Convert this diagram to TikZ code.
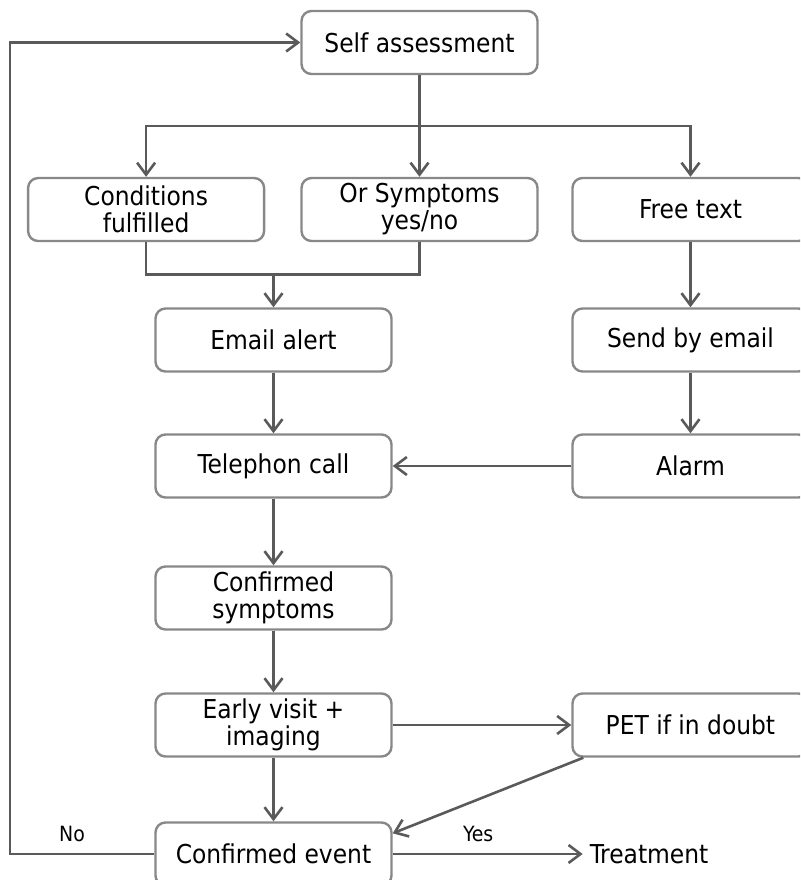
\documentclass[tikz,border=0pt]{standalone}
\usepackage{fontspec}
\setmainfont{DejaVu Sans Condensed}
\usetikzlibrary{positioning,arrows.meta,calc}

\definecolor{boxline}{HTML}{888888}
\definecolor{arrowline}{HTML}{5A5A5A}

\begin{document}
\begin{tikzpicture}[
  x=0.5pt, y=-0.5pt,
  node distance=31pt and 89.3pt,
  box/.style={draw=boxline, line width=1.2pt, rounded corners=5pt, fill=white, minimum width=118pt, minimum height=31.5pt, inner sep=2pt, align=center, font=\fontsize{13}{13.5}\selectfont},
  arrow/.style={-{Straight Barb[length=6pt,width=9pt]}, line width=1.3pt, draw=arrowline},
  line/.style={line width=1.3pt, draw=arrowline},
  lbl/.style={font=\fontsize{10.5}{12}\selectfont}
]
\useasboundingbox (0,0) rectangle (800,880);
\clip (0,0) rectangle (800,880);

% Top row
\node[box] (self) at (419.5,42.5) {Self assessment};
\node[box, below=50.8pt of self] (mid) {Or Symptoms\\yes/no};
\node[box, left=17.5pt of mid] (cond) {Conditions\\fulfilled};
\node[box, right=16.3pt of mid] (free) {Free text};

% Left column
\node[box] (email) at (273.5,340) {Email alert};
\node[box, below=30.3pt of email] (tel) {Telephon call};
\node[box, below=33.3pt of tel] (sympt) {Confirmed\\symptoms};
\node[box, below=30.8pt of sympt] (early) {Early visit +\\imaging};
\node[box, below=31.8pt of early] (event) {Confirmed event};

% Right column
\node[box, right=of email] (send) {Send by email};
\node[box, right=of tel] (alarm) {Alarm};
\node[box, right=of early] (pet) {PET if in doubt};
\node[right=95pt of event, font=\fontsize{13}{13.5}\selectfont] (treat) {Treatment};

% Split and join
\coordinate (split) at ($(self.south)!0.5!(mid.north)$);
\coordinate (join) at ($(cond.south)!0.5!(email.north)$);
\coordinate (back) at (10,0);

% Arrows
\draw[arrow] (self.south) -- (mid.north);
\draw[arrow] (split) -| (cond.north);
\draw[arrow] (split) -| (free.north);
\draw[line] (cond.south) |- (join -| mid.south) -- (mid.south);
\draw[arrow] (join -| email.north) -- (email.north);
\draw[arrow] (free) -- (send);
\draw[arrow] (send) -- (alarm);
\draw[arrow] (email) -- (tel);
\draw[arrow] (alarm) -- (tel);
\draw[arrow] (tel) -- (sympt);
\draw[arrow] (sympt) -- (early);
\draw[arrow] (early) -- (event);
\draw[arrow] (early) -- (pet);
\draw[arrow] ([xshift=6pt]pet.south west) -- ([yshift=-6pt]event.north east);
\draw[arrow] (event) -- node[lbl, above=2pt, pos=0.45] {Yes} (treat);
\draw[arrow] (event.west) -- node[lbl, above=2pt, pos=0.57] {No} (event.west -| back) |- (self.west);

\end{tikzpicture}
\end{document}
